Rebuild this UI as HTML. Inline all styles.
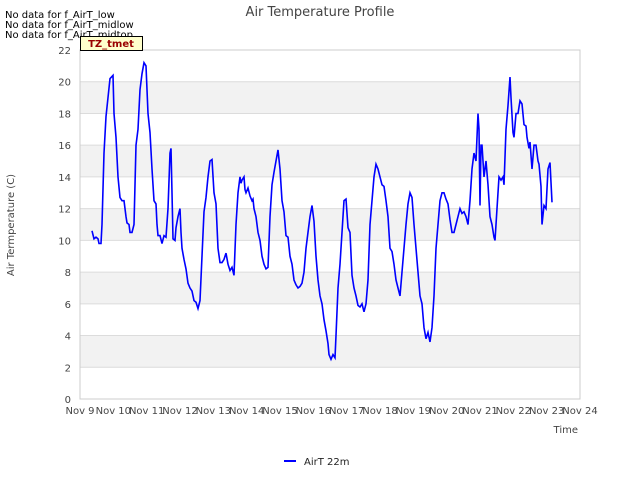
<!DOCTYPE html>
<html><head><meta charset="utf-8">
<style>
body{margin:0;background:#fff;font-family:"Liberation Sans","DejaVu Sans",sans-serif;}
svg text{font-family:"DejaVu Sans","Liberation Sans",sans-serif;}
</style></head>
<body>
<svg id="chart" width="640" height="480" xmlns="http://www.w3.org/2000/svg">
<rect width="640" height="480" fill="#fff"/>
<g id="bands"></g>
<g id="grid"></g>
<rect x="80" y="50" width="500" height="349" fill="none" stroke="#ccc"/>
<g id="yticks"></g>
<g id="xticks"></g>
<path id="line" fill="none" stroke="#0000ff" stroke-width="1.6"/>
<text x="320" y="16" text-anchor="middle" font-size="13" fill="#444">Air Temperature Profile</text>
<text x="14" y="225" text-anchor="middle" font-size="10" fill="#444" transform="rotate(-90 14 225)">Air Termperature (C)</text>
<text x="578" y="433" text-anchor="end" font-size="10" fill="#444">Time</text>
<text x="5" y="18" font-size="10" fill="#000">No data for f_AirT_low</text>
<text x="5" y="28" font-size="10" fill="#000">No data for f_AirT_midlow</text>
<text x="5" y="38" font-size="10" fill="#000">No data for f_AirT_midtop</text>
<g>
<rect x="80.5" y="36.5" width="62" height="14" fill="#ffffcc" stroke="#000"/>
<text x="111" y="47" text-anchor="middle" font-size="10" font-weight="bold" fill="#990000">TZ_tmet</text>
</g>
<g>
<line x1="284" y1="461" x2="296" y2="461" stroke="#0000ff" stroke-width="2"/>
<text x="304" y="465" font-size="10" fill="#222">AirT 22m</text>
</g>
</svg>
<script>
const yTicks=[0,2,4,6,8,10,12,14,16,18,20,22];
const xTickLabels=["Nov 9","Nov 10","Nov 11","Nov 12","Nov 13","Nov 14","Nov 15","Nov 16","Nov 17","Nov 18","Nov 19","Nov 20","Nov 21","Nov 22","Nov 23","Nov 24"];
const days=[0.36,0.42,0.48,0.54,0.57,0.63,0.66,0.72,0.78,0.84,0.90,0.99,1.02,1.08,1.14,1.20,1.26,1.32,1.38,1.41,1.47,1.50,1.56,1.62,1.68,1.74,1.80,1.86,1.92,1.98,2.04,2.10,2.16,2.22,2.28,2.31,2.34,2.40,2.46,2.52,2.58,2.64,2.70,2.73,2.76,2.79,2.85,2.88,2.94,3.00,3.03,3.06,3.12,3.18,3.24,3.30,3.36,3.42,3.48,3.54,3.60,3.66,3.72,3.78,3.84,3.90,3.96,4.02,4.08,4.14,4.20,4.26,4.32,4.38,4.44,4.50,4.56,4.62,4.68,4.74,4.80,4.83,4.86,4.92,4.95,4.98,5.04,5.10,5.16,5.19,5.22,5.28,5.34,5.40,5.46,5.52,5.58,5.64,5.70,5.76,5.82,5.88,5.94,6.00,6.06,6.12,6.18,6.24,6.30,6.36,6.42,6.48,6.54,6.60,6.66,6.72,6.78,6.84,6.90,6.96,7.02,7.08,7.14,7.20,7.26,7.32,7.38,7.44,7.47,7.53,7.59,7.65,7.68,7.74,7.80,7.86,7.92,7.98,8.04,8.10,8.16,8.22,8.28,8.34,8.40,8.46,8.52,8.58,8.64,8.70,8.76,8.82,8.88,8.94,9.00,9.06,9.12,9.18,9.24,9.30,9.36,9.42,9.48,9.54,9.60,9.66,9.72,9.78,9.84,9.90,9.96,10.02,10.08,10.14,10.20,10.26,10.32,10.38,10.44,10.50,10.56,10.62,10.68,10.74,10.80,10.86,10.92,10.98,11.04,11.10,11.16,11.22,11.28,11.34,11.40,11.46,11.52,11.58,11.64,11.70,11.76,11.82,11.88,11.94,11.97,12.00,12.03,12.06,12.12,12.18,12.24,12.30,12.36,12.42,12.45,12.51,12.57,12.63,12.69,12.72,12.78,12.84,12.90,12.93,12.99,13.02,13.08,13.14,13.20,13.26,13.32,13.38,13.41,13.47,13.50,13.56,13.62,13.68,13.74,13.77,13.83,13.86,13.92,13.98,14.04,14.10,14.16];
const temps=[10.6,10.1,10.2,10.1,9.8,9.8,11,15.5,17.8,19,20.2,20.4,18,16.5,14,12.7,12.5,12.5,11.5,11.1,11,10.5,10.5,11,16,17,19.5,20.5,21.2,21,18,16.8,14.5,12.5,12.3,11,10.3,10.3,9.8,10.3,10.2,12,15.5,15.8,13,10.1,10,10.8,11.5,12,10.5,9.5,8.8,8.2,7.3,7,6.8,6.2,6.1,5.7,6.2,9,11.8,12.7,14,15,15.1,13,12.3,9.5,8.6,8.6,8.8,9.2,8.5,8.1,8.3,7.8,11,13,14,13.6,13.8,14,13.2,13,13.3,12.8,12.5,12.6,12,11.5,10.5,10,9,8.5,8.2,8.3,11.5,13.5,14.3,15,15.7,14.5,12.5,11.8,10.3,10.2,9,8.5,7.5,7.2,7,7.1,7.3,8,9.5,10.5,11.5,12.2,11.2,9,7.5,6.5,6,5,4.3,3.5,2.8,2.5,2.8,2.6,4,7,8.5,10.5,12.5,12.6,10.8,10.5,7.8,7,6.5,5.9,5.8,6,5.5,6,7.5,11,12.5,14,14.8,14.5,14,13.5,13.4,12.5,11.5,9.5,9.3,8.5,7.5,7,6.5,8,9.5,11,12.3,13,12.7,11,9.5,8,6.5,6,4.5,3.8,4.2,3.6,4.5,6.5,9.5,11,12.5,13,13,12.6,12.3,11.3,10.5,10.5,11,11.5,12,11.7,11.8,11.5,11,12.5,14.5,15.5,15,18,17,12.2,16,16,14,15,13.5,11.5,11,10.2,10,12,14,13.8,14,13.5,17,18.5,20.3,19,16.8,16.5,18,18,18.8,18.6,17.3,17.2,16.5,15.8,16.2,14.5,16,16,15,14.8,13.4,11,12.2,12,14.5,14.9,12.4,12];
const X0=80,X1=580,Y0=399,Y1=50,DMAX=15,VMAX=22;
const sx=d=>X0+d/DMAX*(X1-X0);
const sy=v=>Y0-v/VMAX*(Y0-Y1);
const NS="http://www.w3.org/2000/svg";
const bands=document.getElementById('bands'),grid=document.getElementById('grid'),yt=document.getElementById('yticks'),xt=document.getElementById('xticks');
for(let i=0;i<yTicks.length-1;i++){
  if(i%2===1){
    const r=document.createElementNS(NS,'rect');
    r.setAttribute('x',X0);r.setAttribute('width',X1-X0);
    r.setAttribute('y',sy(yTicks[i+1]));r.setAttribute('height',sy(yTicks[i])-sy(yTicks[i+1]));
    r.setAttribute('fill','#f2f2f2');
    
    
    bands.appendChild(r);
  }
}
yTicks.forEach(v=>{
  const l=document.createElementNS(NS,'line');
  l.setAttribute('x1',X0);l.setAttribute('x2',X1);l.setAttribute('y1',sy(v));l.setAttribute('y2',sy(v));
  l.setAttribute('stroke','#dcdcdc');
  
  
  grid.appendChild(l);
  const t=document.createElementNS(NS,'text');
  t.setAttribute('x',X0-9);t.setAttribute('y',sy(v)+4);t.setAttribute('text-anchor','end');
  t.setAttribute('font-size','10');t.setAttribute('fill','#444');t.textContent=v;
  
  
  yt.appendChild(t);
});
xTickLabels.forEach((s,i)=>{
  const t=document.createElementNS(NS,'text');
  t.setAttribute('x',sx(i));t.setAttribute('y',414);t.setAttribute('text-anchor','middle');
  t.setAttribute('font-size','10');t.setAttribute('fill','#444');t.textContent=s;
  
  
  xt.appendChild(t);
});
let d='';
days.forEach((dd,i)=>{d+=(i?'L':'M')+sx(dd).toFixed(1)+' '+sy(temps[i]).toFixed(1);});
document.getElementById('line').setAttribute('d',d);
</script>
</body></html>
